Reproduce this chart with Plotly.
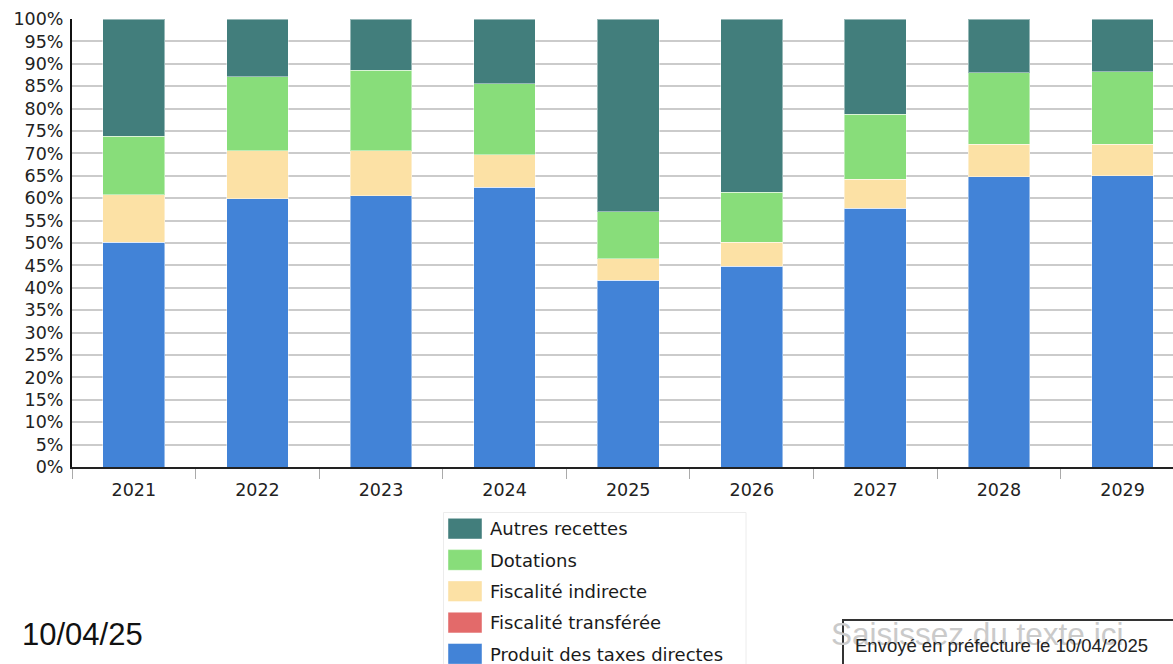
import plotly.graph_objects as go

years = ["2021", "2022", "2023", "2024", "2025", "2026", "2027", "2028", "2029"]
produit_taxes_directes = [50.2, 59.9, 60.6, 62.5, 41.7, 44.8, 57.8, 64.8, 65.0]
fiscalite_transferee = [0, 0, 0, 0, 0, 0, 0, 0, 0]
fiscalite_indirecte = [10.6, 10.7, 10.0, 7.25, 4.8, 5.4, 6.4, 7.2, 7.0]
dotations = [13.0, 16.5, 18.0, 15.85, 10.5, 11.1, 14.5, 16.0, 16.2]
autres_recettes = [26.2, 12.9, 11.4, 14.4, 43.0, 38.7, 21.3, 12.0, 11.8]

series_names = ["Produit des taxes directes", "Fiscalité transférée", "Fiscalité indirecte",
                "Dotations", "Autres recettes"]
series_values = [produit_taxes_directes, fiscalite_transferee, fiscalite_indirecte,
                 dotations, autres_recettes]
series_colors = ["#4283D7", "#E36A6A", "#FCE1A5", "#88DD7A", "#427E7C"]

W, H = 1173, 664
ML, MR, MT, MB = 72, 0, 19, 197
PW, PH = W - ML - MR, H - MT - MB


def px(x):
    return (x - ML) / PW


def py(y):
    return (H - MB - y) / PH


fig = go.Figure()
for name, vals, col in zip(series_names, series_values, series_colors):
    fig.add_trace(go.Bar(
        x=years, y=vals, name=name, width=0.5,
        marker=dict(color=col, line=dict(color="rgba(255,255,255,0.45)", width=1)),
        showlegend=False,
    ))

shapes = []
annotations = []

# legend box
shapes.append(dict(type="rect", xref="paper", yref="paper",
                   x0=px(443.5), x1=px(746), y0=py(720), y1=py(512.5),
                   line=dict(color="#ececec", width=1), fillcolor="white", layer="above"))
legend_order = list(zip(series_names, series_colors))[::-1]
for i, (name, col) in enumerate(legend_order):
    top = 518.3 + 31.3 * i
    shapes.append(dict(type="rect", xref="paper", yref="paper",
                       x0=px(448), x1=px(482), y0=py(top + 20.7), y1=py(top),
                       line=dict(color="rgba(255,255,255,0.45)", width=1), fillcolor=col,
                       layer="above"))
    annotations.append(dict(xref="paper", yref="paper", x=px(488), y=py(top + 10.5),
                            xanchor="left", yanchor="middle", showarrow=False, text=name,
                            font=dict(family="DejaVu Sans", size=18, color="#1a1a1a")))

# footer texts and box
shapes.append(dict(type="rect", xref="paper", yref="paper",
                   x0=px(843), x1=px(1220), y0=py(720), y1=py(620),
                   line=dict(color="#333333", width=2), fillcolor="rgba(0,0,0,0)",
                   layer="above"))
annotations.append(dict(xref="paper", yref="paper", x=px(20), y=py(634),
                        xanchor="left", yanchor="middle", showarrow=False, text="10/04/25",
                        font=dict(family="Liberation Sans", size=31, color="#111111")))
annotations.append(dict(xref="paper", yref="paper", x=px(829), y=py(634),
                        xanchor="left", yanchor="middle", showarrow=False,
                        text="Saisissez du texte ici",
                        font=dict(family="Liberation Sans", size=31.5, color="#cacaca")))
annotations.append(dict(xref="paper", yref="paper", x=px(853), y=py(645),
                        xanchor="left", yanchor="middle", showarrow=False,
                        text="Envoyé en préfecture le 10/04/2025",
                        font=dict(family="Liberation Sans", size=18.5, color="#222222")))

fig.update_layout(
    width=W, height=H,
    margin=dict(l=ML, r=MR, t=MT, b=MB, pad=0),
    barmode="stack",
    plot_bgcolor="white", paper_bgcolor="white",
    font=dict(family="DejaVu Sans", size=17.5, color="#222222"),
    showlegend=False,
    shapes=shapes,
    annotations=annotations,
    xaxis=dict(type="category", range=[-0.5, 8.408], tickson="boundaries",
               ticks="outside", ticklen=10, tickcolor="#aaaaaa", tickwidth=1,
               ticklabelstandoff=6,
               showgrid=False, showline=True, linecolor="#222222", linewidth=2,
               zeroline=False, fixedrange=True),
    yaxis=dict(range=[0, 100], dtick=5, ticksuffix="%", showgrid=True,
               gridcolor="#cbcbcb", gridwidth=2, showline=True, linecolor="#111111",
               linewidth=2, zeroline=False, ticks="", ticklabelstandoff=3,
               fixedrange=True),
)

fig.write_html(
    "out.html",
    config={"displayModeBar": False, "staticPlot": True},
    post_script="document.body.style.margin='0';document.body.style.overflow='hidden';",
)
